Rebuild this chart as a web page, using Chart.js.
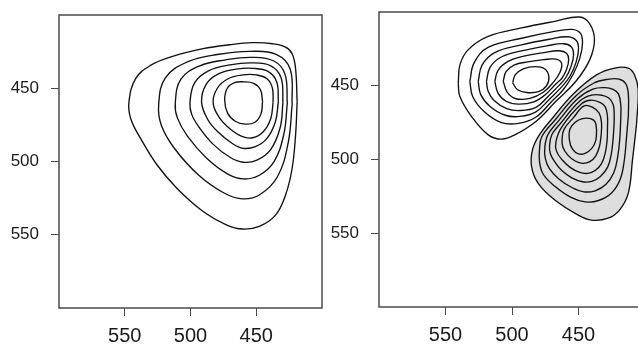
<!DOCTYPE html>
<html>
<head>
<meta charset="utf-8">
<script src="https://cdn.jsdelivr.net/npm/chart.js@4.4.1/dist/chart.umd.min.js"></script>
<style>
  html, body { margin: 0; padding: 0; background: #fff; width: 638px; height: 345px; overflow: hidden; }
  .panel { position: absolute; top: 0; }
  #leftWrap { left: 0; }
  #rightWrap { left: 320px; }
</style>
</head>
<body>
<div class="panel" id="leftWrap"><canvas id="leftChart" width="330" height="345"></canvas></div>
<div class="panel" id="rightWrap"><canvas id="rightChart" width="340" height="345"></canvas></div>
<script>
// Tick values (both axes run from 600 down to 400)
const tickValues = [450, 500, 550];

// Left panel: one density, 7 contour levels, outer to inner, [x, y]
const left1 = [[418.9,459.3],[420.1,482.0],[422.7,504.6],[427.7,522.8],[435.2,536.4],[447.7,544.3],[460.3,546.1],[472.8,543.2],[490.4,534.1],[510.4,518.2],[525.4,502.4],[538.0,484.2],[545.5,470.6],[546.8,459.3],[541.7,443.4],[530.4,434.4],[515.4,428.7],[490.4,423.0],[470.3,420.3],[452.8,418.9],[437.7,419.6],[427.7,421.9],[422.7,426.4],[420.1,436.6]];
const left2 = [[422.7,461.1],[425.7,487.2],[433.9,510.4],[447.1,522.5],[460.3,525.5],[474.5,521.5],[493.7,509.4],[512.0,491.3],[522.2,475.2],[524.2,461.1],[519.1,442.9],[501.9,431.8],[478.5,426.8],[455.2,424.8],[434.9,426.8],[424.2,436.9]];
const left3 = [[426.4,460.4],[429.0,481.2],[436.6,500.3],[447.7,509.4],[459.6,511.9],[471.6,508.6],[487.7,497.8],[502.2,482.9],[509.9,470.4],[511.6,460.4],[507.3,443.8],[492.9,434.7],[473.3,430.6],[453.7,428.9],[436.6,431.4],[428.1,440.5]];
const left4 = [[429.7,459.8],[431.8,476.8],[438.9,491.7],[449.5,499.1],[460.1,500.5],[470.0,497.1],[482.7,488.3],[493.3,476.8],[499.0,468.0],[500.4,459.8],[496.9,446.3],[486.3,438.1],[470.0,434.1],[453.7,432.7],[438.9,434.7],[431.1,442.9]];
const left5 = [[433.2,459.3],[435.5,473.0],[442.0,484.4],[450.7,489.9],[460.1,491.0],[468.2,487.7],[478.8,480.1],[486.9,471.3],[491.6,459.3],[488.1,447.3],[478.8,440.2],[465.3,437.0],[452.5,436.4],[440.8,438.6],[434.4,445.7]];
const left6 = [[437.2,460.0],[439.0,470.8],[444.5,479.5],[452.7,483.8],[460.9,482.9],[470.0,477.7],[478.2,469.9],[482.8,460.0],[479.6,450.0],[471.4,443.5],[460.0,440.9],[450.0,440.9],[441.8,443.5],[437.7,450.0]];
const left7 = [[445.2,459.0],[446.4,467.5],[451.0,473.2],[458.5,474.5],[466.0,472.5],[471.8,467.0],[474.0,458.0],[472.0,450.0],[466.5,446.2],[459.6,445.6],[452.0,446.6],[446.8,451.0]];

// Right panel, upper group (white)
const upper1 = [[540.4,448.2],[539.2,457.3],[530.4,470.9],[517.9,483.3],[507.9,486.2],[497.9,483.3],[481.8,474.0],[466.8,460.4],[451.8,446.8],[441.5,432.3],[438.0,418.7],[441.7,407.8],[449.2,403.4],[467.8,406.3],[492.8,410.8],[517.9,416.5],[532.9,425.5],[539.1,435.7]];
const upper2 = [[531.7,447.0],[528.5,434.5],[518.0,424.0],[492.8,417.8],[470.0,413.5],[455.0,411.8],[448.5,414.5],[447.0,421.2],[449.0,431.3],[454.0,442.2],[461.5,452.7],[469.9,460.3],[481.9,471.2],[495.0,475.5],[508.0,475.0],[521.0,467.5],[529.5,457.5]];
const upper3 = [[525.4,447.0],[522.5,436.0],[513.0,427.5],[492.8,422.3],[472.0,418.5],[458.0,416.8],[451.5,419.5],[450.0,425.3],[451.8,434.0],[456.3,443.4],[463.0,451.1],[471.5,458.8],[482.0,467.7],[494.0,470.8],[505.0,470.0],[516.5,464.0],[523.5,456.0]];
const upper4 = [[519.2,447.0],[516.5,437.5],[508.0,430.5],[492.8,426.4],[474.0,423.0],[461.5,421.5],[455.5,423.5],[453.7,428.8],[455.5,436.6],[459.5,444.4],[465.0,450.1],[473.1,457.4],[482.0,464.7],[494.0,466.8],[504.0,465.5],[513.5,460.0],[518.0,453.5]];
const upper5 = [[512.9,447.0],[510.5,439.5],[503.0,433.5],[492.8,430.3],[476.0,427.5],[464.5,426.3],[459.0,428.0],[457.4,432.3],[459.0,439.0],[462.5,444.9],[467.0,448.8],[474.8,455.9],[483.5,460.9],[495.0,462.5],[504.5,460.5],[510.5,455.0]];
const upper6 = [[506.6,447.0],[504.5,440.5],[498.5,436.0],[488.0,433.8],[476.0,432.3],[467.0,432.0],[462.7,434.8],[464.0,441.0],[469.0,447.7],[476.4,454.4],[486.5,458.5],[497.0,458.8],[503.5,454.5]];
const upper7 = [[499.5,448.0],[496.0,452.5],[489.0,454.6],[480.0,454.0],[474.0,450.0],[472.3,443.8],[475.5,438.5],[482.5,437.0],[491.5,438.5],[497.5,442.5]];

// Right panel, lower group (shaded)
const lower1 = [[406.4,476.5],[409.4,500.3],[412.6,523.0],[419.2,534.3],[427.7,539.8],[440.2,541.1],[450.2,537.7],[467.8,527.5],[480.3,516.2],[485.3,504.9],[484.5,493.0],[479.3,483.1],[469.3,471.7],[454.3,455.9],[436.2,442.5],[422.7,438.0],[412.6,438.0],[407.9,442.5],[405.1,452.7]];
const lower2 = [[412.5,470.0],[413.9,485.0],[415.5,500.0],[418.5,513.0],[425.0,522.5],[435.0,527.8],[445.0,528.7],[456.0,525.5],[468.0,518.0],[476.5,510.0],[479.3,501.5],[479.3,493.0],[477.6,484.6],[467.6,473.2],[452.6,457.4],[438.7,448.3],[427.0,445.5],[419.5,445.5],[414.5,448.5],[412.5,456.0]];
const lower3 = [[418.2,472.0],[418.9,485.0],[420.5,498.0],[423.5,509.0],[429.5,517.0],[437.5,521.2],[446.0,521.9],[455.0,519.0],[465.0,513.0],[472.0,506.0],[475.0,499.0],[475.3,491.5],[473.0,483.1],[465.9,474.8],[450.9,459.0],[439.2,452.3],[430.0,451.3],[424.0,452.5],[420.0,455.5],[418.2,463.0]];
const lower4 = [[423.2,475.0],[423.9,485.0],[425.3,496.0],[428.0,505.0],[433.5,511.5],[440.0,514.8],[447.0,515.1],[455.0,512.5],[462.5,507.5],[467.5,502.0],[471.0,496.5],[471.8,490.5],[470.0,483.1],[464.2,476.3],[449.2,460.5],[440.2,456.3],[432.0,456.5],[427.0,458.5],[424.0,462.5],[423.2,468.0]];
const lower5 = [[428.2,478.0],[428.5,487.0],[430.0,496.0],[432.8,503.0],[437.5,507.5],[443.0,509.4],[449.0,508.8],[456.0,505.5],[462.0,500.5],[466.5,494.5],[467.0,488.0],[462.5,477.9],[447.5,462.1],[440.7,459.8],[433.5,461.5],[429.8,464.5],[428.2,471.0]];
const lower6 = [[432.9,483.0],[434.2,491.0],[437.0,497.5],[441.5,501.5],[447.0,502.6],[452.5,501.0],[458.0,497.0],[461.8,491.5],[462.3,485.5],[460.8,479.4],[453.5,471.3],[445.8,463.6],[439.0,464.8],[434.5,468.5],[432.7,475.0]];
const lower7 = [[436.4,480.0],[437.0,487.0],[440.0,492.5],[445.0,495.8],[450.0,496.2],[454.5,493.0],[456.8,487.0],[456.5,479.5],[452.5,474.8],[447.0,472.3],[441.0,472.3],[437.5,474.5]];

const fontFamily = "'Liberation Sans', Arial, Helvetica, sans-serif";

function contour(points, extra) {
    const data = points.concat([points[0]]).map(p => ({ x: p[0], y: p[1] }));
    return Object.assign({
        data: data,
        showLine: true,
        pointRadius: 0,
        borderColor: "#111",
        borderWidth: 1.35,
        tension: 0.4,
        fill: false,
        order: 0
    }, extra || {});
}

// draws the closed box round the plotting area
const framePlugin = {
    id: "frame",
    afterDatasetsDraw(chart) {
        const a = chart.chartArea;
        const ctx = chart.ctx;
        ctx.save();
        ctx.strokeStyle = "#4a4a4a";
        ctx.lineWidth = 1.5;
        ctx.strokeRect(a.left, a.top, a.right - a.left, a.bottom - a.top);
        ctx.restore();
    }
};

function axis(size, fit, pad) {
    return {
        type: "linear",
        min: 400,
        max: 600,
        reverse: true,
        afterBuildTicks: scale => { scale.ticks = tickValues.map(v => ({ value: v })); },
        afterFit: scale => {
            fit(scale);
            // no extra room for end labels, the ticks are well inside
            scale.paddingTop = 0; scale.paddingBottom = 0;
            scale.paddingLeft = 0; scale.paddingRight = 0;
        },
        grid: { drawOnChartArea: false, drawTicks: true, tickLength: 8, color: "#4a4a4a", lineWidth: 1 },
        border: { display: false },
        ticks: {
            color: "#1a1a1a",
            padding: pad,
            maxRotation: 0,
            autoSkip: false,
            font: { family: fontFamily, size: size },
            callback: v => String(v)
        }
    };
}

function makeChart(id, datasets, layout, xHeight) {
    return new Chart(document.getElementById(id), {
        type: "scatter",
        data: { datasets: datasets },
        options: {
            responsive: false,
            animation: false,
            devicePixelRatio: 1,
            layout: { padding: layout },
            plugins: { legend: { display: false }, tooltip: { enabled: false } },
            scales: {
                x: axis(20, s => { s.height = xHeight; }, 8),
                y: axis(17, s => { s.width = 59; }, 12)
            }
        },
        plugins: [framePlugin]
    });
}

makeChart("leftChart",
    [left1, left2, left3, left4, left5, left6, left7].map(c => contour(c)),
    { left: 0, right: 8, top: 15, bottom: 0 }, 37);

const rightSets = [upper1, upper2, upper3, upper4, upper5, upper6, upper7].map(c => contour(c))
    .concat([lower2, lower3, lower4, lower5, lower6, lower7].map(c => contour(c)))
    .concat([contour(lower1, { fill: "shape", backgroundColor: "#dedede", order: 1 })]);

makeChart("rightChart", rightSets, { left: 0, right: 15, top: 12, bottom: 0 }, 38);
</script>
</body>
</html>
